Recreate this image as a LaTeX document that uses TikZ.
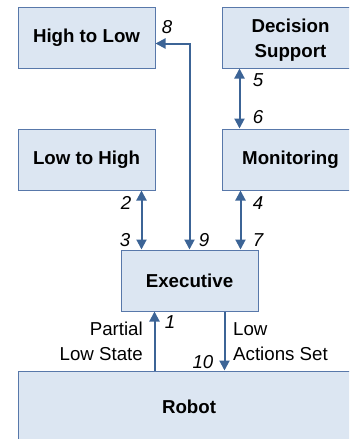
\documentclass[tikz,border=0pt]{standalone}
\usepackage{fontspec}
\setmainfont{Liberation Sans}
\usetikzlibrary{arrows.meta,positioning,calc}
\definecolor{boxfill}{HTML}{DCE6F2}
\definecolor{boxline}{HTML}{5878AA}
\definecolor{linkblue}{HTML}{3C6496}

\begin{document}
\begin{tikzpicture}[x=1pt,y=-1pt,
    block/.style={draw=boxline, fill=boxfill, line width=1pt, minimum width=137pt,
      minimum height=61pt, align=center, inner sep=0pt,
      font=\fontsize{18.7}{25}\selectfont\bfseries},
    link/.style={draw=linkblue, line width=2pt,
      {Triangle[length=10pt,width=10pt]}-{Triangle[length=10pt,width=10pt]}},
    uplink/.style={draw=linkblue, line width=2pt, -{Triangle[length=10pt,width=10pt]}},
    num/.style={inner sep=0pt, font=\fontsize{18.7}{25}\selectfont\itshape},
    lbl/.style={inner sep=0pt, font=\fontsize{18.7}{25}\selectfont}]
        \useasboundingbox (0,0) rectangle (349,439);
        \clip (0,0) rectangle (349,439);
        %Boxes
        \node[block, align=none] (h2l) at (86.5,37.5) {High to Low};
        \node[block, align=none] (dec) at (290.5,37.5)
          {\raisebox{-7pt}[25pt][25pt]{\begin{tabular}{@{}c@{}}Decision\\Support\end{tabular}}};
        \node[block] (l2h) at (86.5,159.5) {Low to High};
        \node[block] (mon) at (290.5,159.5) {Monitoring};
        \node[block] (exec) at (189.5,280.5) {Executive};
        \node[block, minimum width=342pt, minimum height=72pt] (robot) at (189,407) {Robot};
        %Anchor points
        \coordinate (c3) at ([xshift=21pt]exec.north west);
        \coordinate (c7) at ([xshift=-18pt]exec.north east);
        \coordinate (c6) at ([xshift=18pt]mon.north west);
        \coordinate (c1) at ([xshift=34pt]exec.south west);
        \coordinate (c10) at ([xshift=-34pt]exec.south east);
        %Links
        \draw[link] (exec.north) |- ([yshift=-6pt]h2l.east);
        \draw[link] (c3) -- (c3 |- l2h.south);
        \draw[link] (c7) -- (c7 |- mon.south);
        \draw[link] (c6) -- (c6 |- dec.south);
        \draw[uplink] (c1 |- robot.north) -- (c1);
        \draw[uplink] (c10) -- (c10 |- robot.north);
        %Numbers
        \node[num] (n8) at (167,27) {8};
        \node[num] (n5) at (258,80) {5};
        \node[num] (n6) at (258,117) {6};
        \node[num] (n2) at (126,203) {2};
        \node[num] (n4) at (258,203) {4};
        \node[num] (n3) at (125,240) {3};
        \node[num] (n9) at (204,240) {9};
        \node[num] (n7) at (258,240) {7};
        \node[num] (n1) at (170,322) {1};
        \node[num] (n10) at (203,362) {10};
        %Texts
        \node[lbl, align=right, anchor=east] (partial) at (143,341.5) {Partial\\Low State};
        \node[lbl, align=left, anchor=west] (lowact) at (233,341.5) {Low\\Actions Set};
\end{tikzpicture}
\end{document}
